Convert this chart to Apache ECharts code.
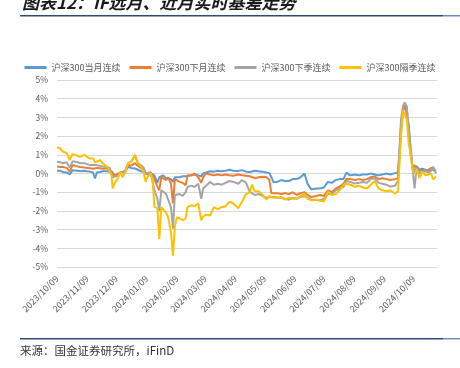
<!DOCTYPE html>
<html>
<head>
<meta charset="utf-8">
<script src="https://cdn.jsdelivr.net/npm/echarts@6/dist/echarts.min.js"></script>
<style>
    html, body { margin: 0; padding: 0; background: #fff; }
    #chart { width: 460px; height: 368px; }
</style>
</head>
<body>
<div id="chart"></div>
<script>
const dates = [
    '2023-10-09', '2023-10-12', '2023-10-15', '2023-10-19', '2023-10-22', '2023-10-25', '2023-10-30', '2023-11-02',
    '2023-11-06', '2023-11-09', '2023-11-12', '2023-11-15', '2023-11-17', '2023-11-19', '2023-11-22', '2023-11-25',
    '2023-11-29', '2023-12-02', '2023-12-04', '2023-12-05', '2023-12-07', '2023-12-11', '2023-12-13', '2023-12-15',
    '2023-12-18', '2023-12-21', '2023-12-24', '2023-12-26', '2023-12-28', '2023-12-31', '2024-01-03', '2024-01-06',
    '2024-01-08', '2024-01-10', '2024-01-13', '2024-01-15', '2024-01-17', '2024-01-20', '2024-01-22', '2024-01-24',
    '2024-01-26', '2024-01-29', '2024-01-31', '2024-02-03', '2024-02-05', '2024-02-07', '2024-02-09', '2024-02-12',
    '2024-02-15', '2024-02-18', '2024-02-20', '2024-02-24', '2024-02-27', '2024-03-02', '2024-03-05', '2024-03-07',
    '2024-03-10', '2024-03-14', '2024-03-18', '2024-03-22', '2024-03-26', '2024-03-30', '2024-04-03', '2024-04-07',
    '2024-04-12', '2024-04-16', '2024-04-20', '2024-04-24', '2024-04-26', '2024-04-29', '2024-05-03', '2024-05-07',
    '2024-05-11', '2024-05-14', '2024-05-16', '2024-05-18', '2024-05-22', '2024-05-26', '2024-05-30', '2024-06-03',
    '2024-06-07', '2024-06-11', '2024-06-15', '2024-06-19', '2024-06-22', '2024-06-26', '2024-07-01', '2024-07-05',
    '2024-07-09', '2024-07-13', '2024-07-17', '2024-07-21', '2024-07-25', '2024-07-29', '2024-08-01', '2024-08-05',
    '2024-08-10', '2024-08-14', '2024-08-18', '2024-08-22', '2024-08-26', '2024-08-30', '2024-09-03', '2024-09-07',
    '2024-09-11', '2024-09-15', '2024-09-20', '2024-09-23', '2024-09-26', '2024-09-28', '2024-09-30', '2024-10-02',
    '2024-10-04', '2024-10-06', '2024-10-08', '2024-10-10', '2024-10-12', '2024-10-15', '2024-10-18', '2024-10-21',
    '2024-10-24', '2024-10-27', '2024-10-29', '2024-11-01'
];

// 沪深300当月连续
const curMonth = [
    0.15, 0.15, 0.08, 0.05, -0.05, 0.18, 0.15, 0.12,
    0.15, 0.12, 0.1, 0.05, -0.27, 0.05, 0.08, 0.12,
    0.12, 0.1, 0.05, -0.1, -0.15, -0.05, 0.0, 0.05,
    0.1, 0.36, 0.3, 0.28, 0.27, 0.2, 0.12, 0.08,
    0.0, -0.05, 0.0, 0.0, -0.1, -0.5, -0.2, -0.15,
    -0.1, -0.25, -0.15, -0.3, -0.45, -0.2, -0.25, -0.2,
    -0.15, -0.15, -0.05, -0.1, -0.05, -0.1, -0.15, 0.0,
    0.05, 0.12, 0.1, 0.15, 0.12, 0.15, 0.2, 0.15,
    0.14, 0.18, 0.1, 0.08, 0.12, 0.15, 0.12, 0.1,
    0.05, 0.02, -0.2, -0.45, -0.45, -0.35, -0.4, -0.4,
    -0.3, -0.3, -0.2, 0.0, -0.54, -0.85, -0.8, -0.8,
    -0.75, -0.45, -0.5, -0.35, -0.3, -0.3, 0.05, -0.1,
    -0.05, -0.1, -0.05, -0.05, 0.0, -0.05, -0.1, -0.05,
    0.0, -0.05, 0.02, 0.05, 2.5, 3.4, 3.7, 3.6,
    2.6, 1.3, 0.3, 0.1, 0.4, 0.2, 0.25, 0.2,
    0.15, 0.25, 0.2, 0.1
];

// 沪深300下月连续
const nextMonth = [
    0.37, 0.35, 0.35, 0.3, 0.1, 0.45, 0.38, 0.35,
    0.32, 0.3, 0.28, 0.25, 0.2, 0.3, 0.28, 0.25,
    0.28, 0.2, 0.15, 0.05, -0.1, 0.0, 0.1, 0.08,
    0.12, 0.45, 0.42, 0.45, 0.55, 0.4, 0.3, 0.2,
    0.0, -0.1, 0.05, -0.05, -0.3, -0.7, -0.9, -0.2,
    -0.1, -0.35, -0.2, -0.55, -1.6, -0.3, -0.35, -0.45,
    -0.5, -0.63, -0.1, -0.1, 0.0, -0.2, -0.5, -0.2,
    0.0, -0.05, -0.1, -0.05, -0.1, -0.05, -0.1, -0.12,
    -0.05, -0.1, -0.12, -0.15, -0.2, -0.25, -0.2, -0.18,
    -0.2, -0.35, -1.05, -1.0, -1.05, -1.1, -1.05, -1.1,
    -1.0, -1.15, -1.05, -1.0, -1.15, -1.26, -1.2, -1.15,
    -1.2, -0.9, -1.0, -0.8, -0.7, -0.55, -0.3, -0.3,
    -0.35, -0.3, -0.35, -0.3, -0.2, -0.15, -0.3, -0.25,
    -0.3, -0.35, -0.3, -0.25, 2.2, 3.3, 3.7, 3.5,
    2.3, 1.0, 0.3, 0.45, 0.2, 0.15, 0.18, 0.1,
    0.2, 0.3, 0.2, 0.15
];

// 沪深300下季连续
const nextQuarter = [
    0.63, 0.6, 0.55, 0.6, 0.32, 0.65, 0.6, 0.55,
    0.55, 0.5, 0.45, 0.45, 0.35, 0.45, 0.4, 0.38,
    0.36, 0.3, 0.2, -0.2, -0.3, -0.1, 0.05, 0.0,
    0.15, 0.55, 0.63, 0.6, 0.95, 0.55, 0.45, 0.3,
    0.0, -0.1, 0.05, -0.05, -0.9, -1.35, -2.0, -0.9,
    -1.0, -1.1, -1.2, -1.8, -2.95, -1.15, -1.1, -1.1,
    -1.2, -1.0, -0.72, -0.65, -0.72, -0.55, -1.35, -0.8,
    -0.65, -0.45, -0.6, -0.55, -0.6, -0.5, -0.4, -0.45,
    -0.55, -0.35, -0.5, -1.0, -1.1, -1.15, -1.1, -1.2,
    -1.3, -1.25, -1.2, -1.25, -1.3, -1.3, -1.35, -1.4,
    -1.3, -1.35, -1.25, -1.2, -1.3, -1.4, -1.4, -1.45,
    -1.35, -1.1, -1.1, -0.9, -0.8, -0.72, -0.4, -0.45,
    -0.54, -0.5, -0.45, -0.5, -0.3, -0.25, -0.5, -0.55,
    -0.6, -0.7, -0.65, -0.4, 2.86, 3.6, 3.8, 3.6,
    2.2, 1.25, 0.2, -0.8, 0.3, 0.0, 0.1, 0.15,
    0.05, 0.15, 0.36, 0.0
];

// 沪深300隔季连续
const farQuarter = [
    1.4, 1.35, 1.17, 1.1, 0.72, 1.05, 0.94, 0.9,
    1.0, 0.88, 0.8, 0.82, 0.6, 0.62, 0.72, 0.55,
    0.36, 0.14, -0.1, -0.8, -0.54, -0.2, 0.1, -0.2,
    0.05, 0.54, 0.63, 0.8, 1.0, 0.54, 0.36, 0.05,
    -0.45, -0.18, 0.0, -0.25, -1.8, -1.85, -3.5, -1.8,
    -1.9, -2.1, -2.34, -3.15, -4.4, -2.8, -2.34, -2.4,
    -2.5, -2.4, -1.8, -1.7, -1.75, -1.6, -2.5, -2.3,
    -2.2, -2.25, -1.8, -1.9, -1.8, -1.75, -1.5, -1.6,
    -1.86, -1.5, -1.1, -1.0, -0.6, -0.95, -0.95, -1.15,
    -1.4, -1.2, -1.15, -1.3, -1.3, -1.25, -1.4, -1.3,
    -1.35, -1.35, -1.2, -1.08, -1.35, -1.44, -1.4, -1.44,
    -1.5, -0.97, -1.15, -1.1, -0.9, -0.6, -0.55, -0.6,
    -0.71, -0.65, -0.75, -0.8, -0.6, -0.4, -0.8, -0.9,
    -0.95, -0.9, -1.07, -0.95, 1.96, 3.4, 3.5, 2.9,
    1.6, 1.0, 0.2, 0.0, 0.25, -0.25, 0.1, -0.1,
    -0.05, 0.0, -0.32, -0.15
];

const seriesNames = ['沪深300当月连续', '沪深300下月连续', '沪深300下季连续', '沪深300隔季连续'];
const seriesColors = ['#5B9BD5', '#ED7D31', '#A5A5A5', '#FFC000'];

const tickLabels = [
    '2023-10-09', '2023-11-09', '2023-12-09', '2024-01-09', '2024-02-09', '2024-03-09', '2024-04-09',
    '2024-05-09', '2024-06-09', '2024-07-09', '2024-08-09', '2024-09-09', '2024-10-09'
];

function toTime(s) {
    const p = s.split('-')
    return new Date(+p[0], +p[1] - 1, +p[2]).getTime()
}

function pad(n) {
    return n < 10 ? '0' + n : '' + n
}

const allSeries = [curMonth, nextMonth, nextQuarter, farQuarter]

const myChart = echarts.init(document.getElementById('chart'))

// x 轴用数值轴承载时间戳，刻度固定在每月 9 日
const option = {
    animation: false,
    textStyle: { fontFamily: '"Noto Sans CJK SC", "Noto Sans", sans-serif' },
    legend: {
        top: 58,
        left: 'center',
        itemWidth: 22,
        itemHeight: 3,
        itemGap: 9,
        icon: 'rect',
        textStyle: { fontSize: 9, color: '#595959' },
        data: seriesNames
    },
    grid: { left: 57, right: 23, top: 80, bottom: 101 },
    xAxis: {
        type: 'value',
        min: toTime('2023-10-09'),
        max: toTime('2024-11-02'),
        axisLine: { show: false },
        axisTick: { show: false },
        splitLine: { show: false },
        axisLabel: {
            customValues: tickLabels.map(toTime),
            rotate: 45,
            margin: 10,
            fontSize: 9,
            color: '#595959',
            hideOverlap: false,
            showMinLabel: true,
            formatter: function (v) {
                const d = new Date(v)
                return d.getFullYear() + '/' + pad(d.getMonth() + 1) + '/' + pad(d.getDate())
            }
        }
    },
    yAxis: {
        type: 'value',
        min: -5,
        max: 5,
        interval: 1,
        axisLine: { show: false },
        axisTick: { show: false },
        splitLine: { lineStyle: { color: '#D9D9D9', width: 1 } },
        axisLabel: { fontSize: 8.5, color: '#595959', margin: 9, formatter: '{value}%' }
    },
    series: seriesNames.map((name, i) => ({
        name: name,
        type: 'line',
        showSymbol: false,
        color: seriesColors[i],
        lineStyle: { width: 2, color: seriesColors[i] },
        data: dates.map((d, j) => [toTime(d), allSeries[i][j]])
    })),
    graphic: [
        {
            type: 'text', left: 22, top: -6,
            style: {
                text: '图表12：IF远月、近月实时基差走势',
                font: 'italic bold 17px "Noto Sans CJK SC"',
                fill: '#1a1a1a'
            }
        },
        { type: 'rect', shape: { x: 20, y: 15, width: 423, height: 1.5 }, style: { fill: '#2E4A7D' } },
        { type: 'rect', shape: { x: 443, y: 15, width: 17, height: 1.5 }, style: { fill: '#6F8FB8' } },
        { type: 'rect', shape: { x: 20, y: 338, width: 423, height: 1.5 }, style: { fill: '#2E4A7D' } },
        { type: 'rect', shape: { x: 443, y: 338, width: 17, height: 1.5 }, style: { fill: '#6F8FB8' } },
        {
            type: 'text', left: 20, top: 345,
            style: {
                text: '来源：国金证券研究所，iFinD',
                font: '11.5px "Noto Sans CJK SC"',
                fill: '#333'
            }
        }
    ]
}

myChart.setOption(option)
</script>
</body>
</html>
